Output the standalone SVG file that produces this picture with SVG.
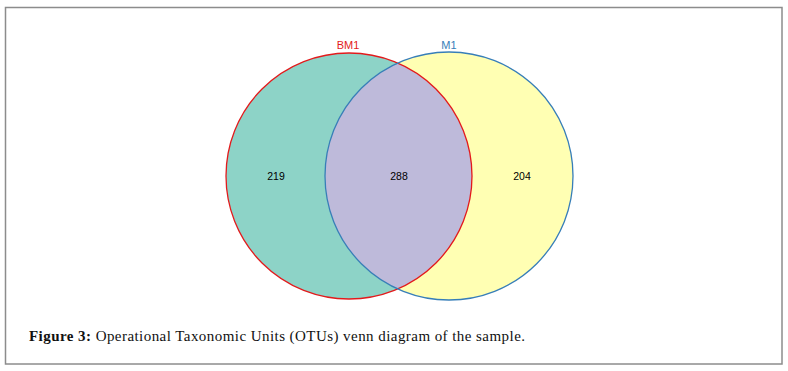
<svg xmlns="http://www.w3.org/2000/svg" width="788" height="371" viewBox="0 0 788 371">
<style>
.lbl{font-family:"Liberation Sans",Arial,sans-serif;font-size:11px;text-anchor:middle}
.num{font-family:"Liberation Sans",Arial,sans-serif;font-size:10.5px;fill:#000;text-anchor:middle}
.cap{font-family:"Liberation Serif","Times New Roman",serif;font-size:15px;fill:#111}
</style>
<defs>
<clipPath id="clipL"><circle cx="349" cy="176" r="123"/></clipPath>
</defs>
<rect x="0" y="0" width="788" height="371" fill="#fff"/>
<rect x="5.5" y="7.5" width="776.5" height="356.5" fill="none" stroke="#8c8c8c" stroke-width="1.5"/>
<g id="setBM1fill"><circle cx="349" cy="176" r="123" fill="#8dd3c7"/></g>
<g id="setM1fill"><circle cx="449" cy="176" r="124" fill="#ffffb3"/></g>
<g id="overlap"><circle cx="449" cy="176" r="124" fill="#bebada" clip-path="url(#clipL)"/></g>
<g id="connectors">
<circle cx="349" cy="176" r="123" fill="none" stroke="#e31a1c" stroke-width="1.3"/>
<circle cx="449" cy="176" r="124" fill="none" stroke="#377eb8" stroke-width="1.3"/>
</g>
<g id="labelBM1"><text class="lbl" x="348" y="49" fill="#e31a1c">BM1</text></g>
<g id="labelM1"><text class="lbl" x="449" y="49" fill="#377eb8">M1</text></g>
<g id="n219"><text class="num" x="276" y="180">219</text></g>
<g id="n288"><text class="num" x="399" y="180">288</text></g>
<g id="n204"><text class="num" x="522" y="180">204</text></g>
<g id="caption"><text class="cap" x="29" y="341" textLength="496" lengthAdjust="spacing"><tspan font-weight="bold">Figure 3:</tspan> Operational Taxonomic Units (OTUs) venn diagram of the sample.</text></g>
</svg>
